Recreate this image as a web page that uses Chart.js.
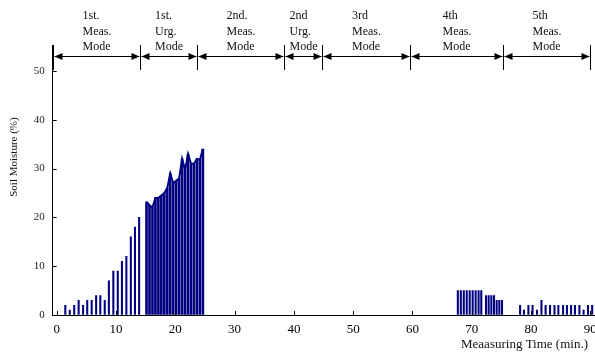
<!DOCTYPE html>
<html>
<head>
<meta charset="utf-8">
<script src="https://cdn.jsdelivr.net/npm/chart.js@4.4.0/dist/chart.umd.min.js"></script>
<style>
  html, body { margin: 0; padding: 0; background: #fff; overflow: hidden; }
  #wrap { position: relative; width: 620px; height: 354px; }
</style>
</head>
<body>
<div id="wrap"><canvas id="chart"></canvas></div>
<script>
// measuring time (min.) and soil moisture (%) per mode
const meas1Times = [1.45, 2.2, 2.95, 3.7, 4.45, 5.15, 5.9, 6.65, 7.35, 8.1, 8.8, 9.55, 10.3, 11.0, 11.75, 12.5, 13.2, 13.9]
const meas1Values = [2, 1, 2, 3, 2, 3, 3, 4, 4, 3, 7, 9, 9, 11, 12, 16, 18, 20]

const urg1Times = [15.15, 15.65, 16.15, 16.65, 17.15, 17.65, 18.15, 18.65, 19.15, 19.65, 20.15, 20.65, 21.15, 21.65, 22.15, 22.65, 23.15, 23.65, 24.15, 24.65]
const urg1Values = [23.2, 22.5, 22, 24, 24, 24.5, 25, 26, 29, 27, 27.5, 28, 32, 29.7, 33, 31, 31, 32, 31.8, 34]

const meas4Times = [67.65, 68.15, 68.65, 69.15, 69.65, 70.15, 70.65, 71.15, 71.6, 72.4, 72.85, 73.3, 73.75, 74.2, 74.65, 75.1]
const meas4Values = [5, 5, 5, 5, 5, 5, 5, 5, 5, 4, 4, 4, 4, 3, 3, 3]

const meas5Times = [78.15, 78.8, 79.55, 80.25, 81.0, 81.75, 82.45, 83.2, 83.95, 84.6, 85.4, 86.05, 86.75, 87.4, 88.15, 88.85, 89.6, 90.3]
const meas5Values = [2, 1, 2, 2, 1, 3, 2, 2, 2, 2, 2, 2, 2, 2, 2, 1, 2, 2]

// mode boundaries (min.) and their labels
const modeBounds = [-0.675, 14.05, 23.65, 38.4, 44.7, 59.6, 75.3, 89.9]
const modeLabels = [
    ['1st.', 'Meas.', 'Mode'],
    ['1st.', 'Urg.', 'Mode'],
    ['2nd.', 'Meas.', 'Mode'],
    ['2nd', 'Urg.', 'Mode'],
    ['3rd', 'Meas.', 'Mode'],
    ['4th', 'Meas.', 'Mode'],
    ['5th', 'Meas.', 'Mode']
]

const xTicks = [0, 10, 20, 30, 40, 50, 60, 70, 80, 90]
const yTicks = [0, 10, 20, 30, 40, 50]

const toPoints = (xs, ys) => xs.map((x, i) => ({ x: x, y: ys[i] }))

const SERIF = '"Liberation Serif", "Times New Roman", serif'
const NAVY = '#000080'

const decorations = {
    id: 'decorations',
    afterDraw(chart) {
        const ctx = chart.ctx
        const area = chart.chartArea
        const xs = chart.scales.x
        const ys = chart.scales.y
        ctx.save()
        ctx.strokeStyle = '#000'
        ctx.fillStyle = '#000'
        ctx.lineWidth = 1

        // inward ticks
        ctx.beginPath()
        yTicks.forEach(v => {
            const y = Math.round(ys.getPixelForValue(v)) + 0.5
            ctx.moveTo(area.left, y)
            ctx.lineTo(area.left + 4, y)
        })
        xTicks.forEach(v => {
            const x = Math.round(xs.getPixelForValue(v)) + 0.5
            ctx.moveTo(x, area.bottom)
            ctx.lineTo(x, area.bottom - 4)
        })
        ctx.stroke()

        // mode boundaries and arrows
        const lineTop = area.top
        const lineBottom = area.top + 25
        const arrowY = area.top + 11.5
        ctx.beginPath()
        modeBounds.forEach(b => {
            const x = Math.round(xs.getPixelForValue(b)) + 0.5
            ctx.moveTo(x, lineTop)
            ctx.lineTo(x, lineBottom)
        })
        ctx.stroke()

        ctx.font = '12px ' + SERIF
        ctx.textAlign = 'left'
        ctx.textBaseline = 'alphabetic'
        for (let i = 0; i < modeLabels.length; i++) {
            const x1 = Math.round(xs.getPixelForValue(modeBounds[i])) + 0.5
            const x2 = Math.round(xs.getPixelForValue(modeBounds[i + 1])) + 0.5
            ctx.beginPath()
            ctx.moveTo(x1 + 1, arrowY)
            ctx.lineTo(x2 - 1, arrowY)
            ctx.stroke()
            ctx.beginPath()
            ctx.moveTo(x1 + 1, arrowY)
            ctx.lineTo(x1 + 9, arrowY - 3.5)
            ctx.lineTo(x1 + 9, arrowY + 3.5)
            ctx.closePath()
            ctx.moveTo(x2 - 1, arrowY)
            ctx.lineTo(x2 - 9, arrowY - 3.5)
            ctx.lineTo(x2 - 9, arrowY + 3.5)
            ctx.closePath()
            ctx.fill()

            const lines = modeLabels[i]
            const w = Math.max(...lines.map(t => ctx.measureText(t).width))
            const start = (x1 + x2) / 2 - w / 2
            ctx.fillStyle = '#111'
            lines.forEach((t, j) => ctx.fillText(t, start, 19 + j * 15.5))
            ctx.fillStyle = '#000'
        }

        // axis titles
        ctx.fillStyle = '#111'
        ctx.font = '13px ' + SERIF
        ctx.textAlign = 'right'
        ctx.fillText('Meaasuring Time (min.)', 588, 348)

        ctx.save()
        ctx.translate(14, area.top + (area.bottom - area.top) * 0.415)
        ctx.rotate(-Math.PI / 2)
        ctx.font = '11px ' + SERIF
        ctx.textAlign = 'center'
        ctx.textBaseline = 'middle'
        ctx.fillText('Soil Moisture (%)', 0, 0)
        ctx.restore()

        ctx.restore()
    }
}

new Chart(document.getElementById('chart'), {
    type: 'bar',
    data: {
        datasets: [{
            label: 'Meas.',
            data: toPoints(meas1Times, meas1Values)
                .concat(toPoints(meas4Times, meas4Values))
                .concat(toPoints(meas5Times, meas5Values)),
            backgroundColor: NAVY,
            borderWidth: 0,
            barThickness: 1.4,
            grouped: false
        }, {
            label: 'Urg.',
            data: toPoints(urg1Times, urg1Values),
            backgroundColor: NAVY,
            borderWidth: 0,
            barThickness: 2,
            grouped: false
        }, {
            type: 'line',
            label: 'Urg. top',
            data: toPoints(urg1Times, urg1Values),
            borderColor: NAVY,
            borderWidth: 2,
            pointRadius: 0,
            tension: 0,
            fill: false
        }]
    },
    options: {
        responsive: true,
        maintainAspectRatio: false,
        animation: false,
        devicePixelRatio: 1,
        layout: { padding: { left: 8, right: 25, top: 45, bottom: 0 } },
        plugins: {
            legend: { display: false },
            tooltip: { enabled: false }
        },
        events: [],
        scales: {
            x: {
                type: 'linear',
                min: -0.675,
                max: 90.78,
                offset: false,
                afterFit: s => { s.height = 39 },
                afterBuildTicks: s => { s.ticks = xTicks.map(v => ({ value: v })) },
                grid: { drawOnChartArea: false, drawTicks: false },
                border: { display: true, color: '#000', width: 1 },
                ticks: {
                    autoSkip: false,
                    maxRotation: 0,
                    padding: 7,
                    color: '#000',
                    font: { family: SERIF, size: 13 }
                }
            },
            y: {
                min: 0,
                max: 55.33,
                afterFit: s => { s.width = 44.7 },
                afterBuildTicks: s => { s.ticks = yTicks.map(v => ({ value: v })) },
                grid: { drawOnChartArea: false, drawTicks: false },
                border: { display: true, color: '#000', width: 1 },
                ticks: {
                    padding: 8,
                    color: '#222',
                    font: { family: SERIF, size: 11 }
                }
            }
        }
    },
    plugins: [decorations]
})
</script>
</body>
</html>
